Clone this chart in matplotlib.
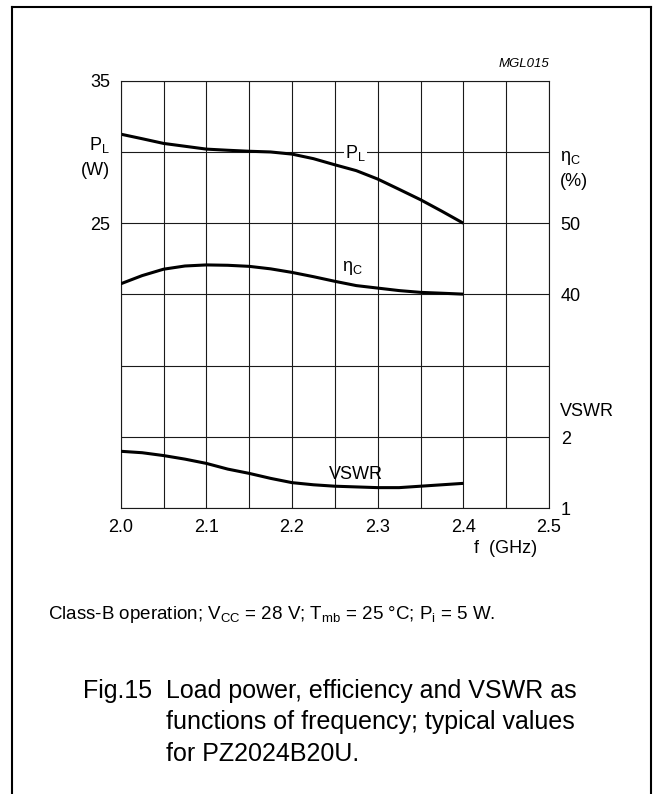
import matplotlib
matplotlib.use('Agg')
import matplotlib.pyplot as plt
from matplotlib.lines import Line2D

plt.rcParams['font.family'] = ['Liberation Sans', 'DejaVu Sans']
plt.rcParams['mathtext.fontset'] = 'custom'
plt.rcParams['mathtext.rm'] = 'Liberation Sans'
plt.rcParams['mathtext.it'] = 'Liberation Sans:italic'

# values
freq = [2.0, 2.025, 2.05, 2.075, 2.1, 2.125, 2.15, 2.175, 2.2,
        2.225, 2.25, 2.275, 2.3, 2.325, 2.35, 2.375, 2.4]
p_load = [31.25, 30.93, 30.6, 30.4, 30.2, 30.12, 30.05, 30.0, 29.85,
          29.53, 29.1, 28.69, 28.1, 27.38, 26.65, 25.84, 25.0]
eff = [41.5, 42.65, 43.55, 44.0, 44.15, 44.1, 43.95, 43.6, 43.1,
       42.5, 41.85, 41.25, 40.9, 40.55, 40.3, 40.18, 40.05]
vswr = [1.80, 1.78, 1.74, 1.69, 1.63, 1.55, 1.49, 1.42, 1.36,
        1.33, 1.31, 1.30, 1.29, 1.29, 1.31, 1.33, 1.35]

x_grid = [2.0 + 0.05 * i for i in range(11)]
x_labels = ['2.0', '', '2.1', '', '2.2', '', '2.3', '', '2.4', '', '2.5']
pl_grid = [5, 10, 15, 20, 25, 30, 35]
pl_labels = ['', '', '', '', '25', '', '35']

W, H = 653, 794
fig = plt.figure(figsize=(W / 100, H / 100), dpi=100)

# frame round the figure (open at the bottom)
fx = lambda px: px / W
fy = lambda py: 1 - py / H
frame_kw = dict(color='black', lw=1.5, transform=fig.transFigure)
fig.add_artist(Line2D([fx(11.7), fx(11.7)], [fy(6.7), 0], **frame_kw))
fig.add_artist(Line2D([fx(650.5), fx(650.5)], [fy(6.7), 0], **frame_kw))
fig.add_artist(Line2D([fx(11.7), fx(650.5)], [fy(6.7), fy(6.7)], **frame_kw))

ax = fig.add_axes([fx(120.7), fy(508.3), (549 - 120.7) / W, (508.3 - 80.7) / H])
ax.set_xlim(2.0, 2.5)
ax.set_ylim(5, 35)
ax.set_xticks(x_grid)
ax.set_xticklabels(x_labels)
ax.set_yticks(pl_grid)
ax.set_yticklabels(pl_labels)
ax.grid(True, color='#1a1a1a', lw=0.8)
for s in ax.spines.values():
    s.set_color('#1a1a1a')
    s.set_linewidth(0.8)
ax.tick_params(length=0, labelsize=13)
ax.tick_params(axis='x', pad=8)
ax.tick_params(axis='y', pad=7.5)

ax.plot(freq, p_load, color='black', lw=2.2, solid_capstyle='butt')

ax_eff = ax.twinx()
ax_eff.set_ylim(10, 70)
ax_eff.plot(freq, eff, color='black', lw=2.2, solid_capstyle='butt')
ax_eff.set_yticks([40, 50])
ax_eff.set_yticklabels(['40', '50'])

ax_v = ax.twinx()
ax_v.set_ylim(1, 7)
ax_v.plot(freq, vswr, color='black', lw=2.2, solid_capstyle='butt')
ax_v.set_yticks([1, 2])
ax_v.set_yticklabels(['1', '2'])

for a in (ax_eff, ax_v):
    a.tick_params(length=0, labelsize=13, pad=8.5)
    for s in a.spines.values():
        s.set_visible(False)

# axis titles
ax.text(-0.025, 0.85, r'$\mathregular{P_L}$', transform=ax.transAxes,
        ha='right', va='center', fontsize=13)
ax.text(-0.025, 0.791, '(W)', transform=ax.transAxes,
        ha='right', va='center', fontsize=13)
ax.text(1.026, 0.819, r'$\mathregular{\eta_C}$', transform=ax.transAxes,
        ha='left', va='center', fontsize=13)
ax.text(1.026, 0.765, '(%)', transform=ax.transAxes,
        ha='left', va='center', fontsize=13)
ax.text(1.026, 0.227, 'VSWR', transform=ax.transAxes,
        ha='left', va='center', fontsize=13)
ax.text(0.898, -0.093, 'f  (GHz)', transform=ax.transAxes,
        ha='center', va='center', fontsize=13)
ax.text(1.0, 1.025, 'MGL015', transform=ax.transAxes,
        ha='right', va='bottom', fontsize=9.5, style='italic')

# curve labels
ax.text(2.262, 29.9, r'$\mathregular{P_L}$', ha='left', va='center', fontsize=13,
        bbox=dict(facecolor='white', edgecolor='none', pad=0.5))
ax_eff.text(2.258, 43.7, r'$\mathregular{\eta_C}$', ha='left', va='center', fontsize=13)
ax_v.text(2.243, 1.47, 'VSWR', ha='left', va='center', fontsize=13)

# notes under the chart
fig.text(fx(48.3), fy(619),
         r'Class-B operation; $\mathregular{V_{CC}}$ = 28 V; '
         r'$\mathregular{T_{mb}}$ = 25 °C; $\mathregular{P_i}$ = 5 W.',
         ha='left', va='baseline', fontsize=13.5)
fig.text(fx(83), fy(698), 'Fig.15', ha='left', va='baseline', fontsize=18)
caption = ['Load power, efficiency and VSWR as',
           'functions of frequency; typical values',
           'for PZ2024B20U.']
for i, line in enumerate(caption):
    fig.text(fx(166.5), fy(698 + 31.5 * i), line, ha='left', va='baseline', fontsize=18)

fig.savefig('out.png', dpi=100)
